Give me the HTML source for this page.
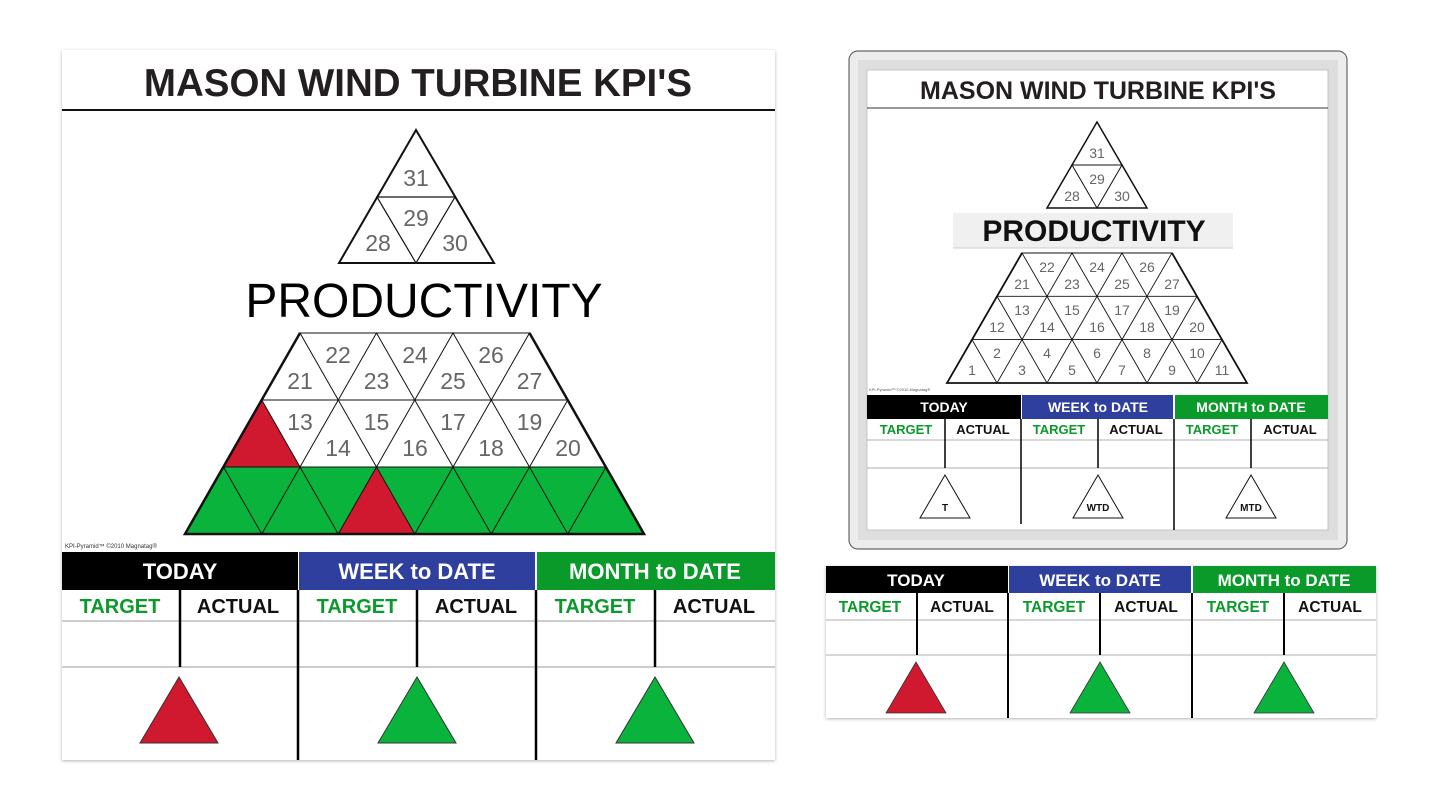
<!DOCTYPE html>
<html><head><meta charset="utf-8"><style>
html,body{margin:0;padding:0;background:#fff;width:1440px;height:810px;overflow:hidden}
svg{display:block;font-family:"Liberation Sans",sans-serif}
</style></head><body>
<svg width="1440" height="810" viewBox="0 0 1440 810" xmlns="http://www.w3.org/2000/svg">
<defs>
<filter id="sh" x="-5%" y="-5%" width="110%" height="110%"><feDropShadow dx="0" dy="1" stdDeviation="1.5" flood-color="#000" flood-opacity="0.3"/></filter>
</defs>
<!-- LEFT BOARD -->
<rect x="62" y="50" width="713" height="710" fill="#fff" filter="url(#sh)"/>
<text x="418" y="96" text-anchor="middle" font-size="38.5" font-weight="bold" fill="#231f20">MASON WIND TURBINE KPI'S</text>
<line x1="62" y1="110" x2="775" y2="110" stroke="#111" stroke-width="2"/>
<g fill="none" stroke="#111" stroke-width="1.2">
<polygon points="416,130 339,263 494,263" stroke-width="2"/>
<polygon points="377,197 455,197 416,263"/>
</g>
<g fill="#666" font-size="23" text-anchor="middle">
<text x="416" y="186">31</text><text x="416" y="226">29</text><text x="378" y="251">28</text><text x="455" y="251">30</text>
</g>
<text x="424" y="317" text-anchor="middle" font-size="48" fill="#000">PRODUCTIVITY</text>
<!-- big trapezoid: lattice w=76.5 h=67 -->
<polygon points="223.5,467 606.5,467 644,534 185,534" fill="#0ab43c"/>
<polygon points="262,400 223.5,467 300,467" fill="#d0182f"/>
<polygon points="376.5,467 338.5,534 415,534" fill="#d0182f"/>
<g fill="none" stroke="#111" stroke-width="1">
<polygon points="300,333 261.75,400 338.25,400"/><polygon points="376.5,333 338.25,400 414.75,400"/><polygon points="453,333 414.75,400 491.25,400"/><polygon points="529.5,333 491.25,400 567.75,400"/>
<polygon points="261.75,400 223.5,467 300,467"/><polygon points="338.25,400 300,467 376.5,467"/><polygon points="414.75,400 376.5,467 453,467"/><polygon points="491.25,400 453,467 529.5,467"/><polygon points="567.75,400 529.5,467 606,467"/>
<polygon points="223.5,467 185.25,534 261.75,534"/><polygon points="300,467 261.75,534 338.25,534"/><polygon points="376.5,467 338.25,534 414.75,534"/><polygon points="453,467 414.75,534 491.25,534"/><polygon points="529.5,467 491.25,534 567.75,534"/><polygon points="606,467 567.75,534 644.25,534"/>
<line x1="300" y1="333" x2="529.5" y2="333"/>
</g>
<polyline points="300,333 185,534 644,534 529.5,333" fill="none" stroke="#111" stroke-width="2.5"/>
<g fill="#666" font-size="23" text-anchor="middle">
<text x="300" y="389">21</text><text x="376.5" y="389">23</text><text x="453" y="389">25</text><text x="529.5" y="389">27</text>
<text x="338" y="363">22</text><text x="415" y="363">24</text><text x="491" y="363">26</text>
<text x="300" y="430">13</text><text x="376.5" y="430">15</text><text x="453" y="430">17</text><text x="529.5" y="430">19</text>
<text x="338" y="456">14</text><text x="415" y="456">16</text><text x="491" y="456">18</text><text x="568" y="456">20</text>
</g>
<text x="65" y="548" font-size="6" fill="#333">KPI-Pyramid™ ©2010 Magnatag®</text>
<rect x="62" y="552" width="236" height="38" fill="#000"/>
<rect x="299" y="552" width="236" height="38" fill="#2e3f9e"/>
<rect x="537" y="552" width="238" height="38" fill="#0a9a2a"/>
<g fill="#fff" font-size="22" font-weight="bold" text-anchor="middle">
<text x="180" y="579">TODAY</text><text x="417" y="579">WEEK to DATE</text><text x="655" y="579">MONTH to DATE</text>
</g>
<g font-size="20" font-weight="bold" text-anchor="middle">
<text x="120" y="613" fill="#0a9a2a">TARGET</text><text x="238" y="613" fill="#111">ACTUAL</text>
<text x="357" y="613" fill="#0a9a2a">TARGET</text><text x="476" y="613" fill="#111">ACTUAL</text>
<text x="595" y="613" fill="#0a9a2a">TARGET</text><text x="714" y="613" fill="#111">ACTUAL</text>
</g>
<g stroke="#999" stroke-width="1"><line x1="62" y1="621" x2="775" y2="621"/><line x1="62" y1="667" x2="775" y2="667"/></g>
<g stroke="#000" stroke-width="2.5">
<line x1="180" y1="590" x2="180" y2="667"/><line x1="417" y1="590" x2="417" y2="667"/><line x1="655" y1="590" x2="655" y2="667"/>
<line x1="298" y1="590" x2="298" y2="760"/><line x1="536" y1="590" x2="536" y2="760"/>
</g>
<polygon points="179,677 140,743 218,743" fill="#d0182f" stroke="#333" stroke-width="1"/>
<polygon points="417,677 378,743 456,743" fill="#0ab43c" stroke="#333" stroke-width="1"/>
<polygon points="655,677 616,743 694,743" fill="#0ab43c" stroke="#333" stroke-width="1"/>

<!-- RIGHT BOARD -->
<rect x="849" y="51" width="498" height="498" rx="9" fill="#ececec" stroke="#666" stroke-width="1.2"/>
<rect x="858" y="60" width="480" height="480" fill="#dedede"/>
<rect x="867" y="70" width="461" height="460" fill="#fff" stroke="#bbb" stroke-width="0.8"/>
<text x="1098" y="99" text-anchor="middle" font-size="25" font-weight="bold" fill="#231f20">MASON WIND TURBINE KPI'S</text>
<line x1="867" y1="108" x2="1328" y2="108" stroke="#333" stroke-width="1"/>
<g fill="none" stroke="#111" stroke-width="1">
<polygon points="1097,122 1047,208 1147,208" stroke-width="1.5"/>
<polygon points="1072,165 1122,165 1097,208"/>
</g>
<g fill="#666" font-size="14" text-anchor="middle">
<text x="1097" y="158">31</text><text x="1097" y="184">29</text><text x="1072" y="201">28</text><text x="1122" y="201">30</text>
</g>
<rect x="953" y="213" width="280" height="35" fill="#f0f0f0"/>
<line x1="953" y1="248" x2="1233" y2="248" stroke="#ccc"/>
<text x="1094" y="241" text-anchor="middle" font-size="30" font-weight="bold" fill="#111">PRODUCTIVITY</text>
<g fill="none" stroke="#111" stroke-width="0.9">
<polygon points="1022,253 997,296.3 1047,296.3"/><polygon points="1072,253 1047,296.3 1097,296.3"/><polygon points="1122,253 1097,296.3 1147,296.3"/><polygon points="1172,253 1147,296.3 1197,296.3"/>
<polygon points="997,296.3 972,339.6 1022,339.6"/><polygon points="1047,296.3 1022,339.6 1072,339.6"/><polygon points="1097,296.3 1072,339.6 1122,339.6"/><polygon points="1147,296.3 1122,339.6 1172,339.6"/><polygon points="1197,296.3 1172,339.6 1222,339.6"/>
<polygon points="972,339.6 947,383 997,383"/><polygon points="1022,339.6 997,383 1047,383"/><polygon points="1072,339.6 1047,383 1097,383"/><polygon points="1122,339.6 1097,383 1147,383"/><polygon points="1172,339.6 1147,383 1197,383"/><polygon points="1222,339.6 1197,383 1247,383"/>
<line x1="1022" y1="253" x2="1172" y2="253"/>
</g>
<polyline points="1022,253 947,383 1247,383 1172,253" fill="none" stroke="#111" stroke-width="1.8"/>
<g fill="#666" font-size="14" text-anchor="middle">
<text x="1047" y="272">22</text><text x="1097" y="272">24</text><text x="1147" y="272">26</text>
<text x="1022" y="289">21</text><text x="1072" y="289">23</text><text x="1122" y="289">25</text><text x="1172" y="289">27</text>
<text x="1022" y="315">13</text><text x="1072" y="315">15</text><text x="1122" y="315">17</text><text x="1172" y="315">19</text>
<text x="997" y="332">12</text><text x="1047" y="332">14</text><text x="1097" y="332">16</text><text x="1147" y="332">18</text><text x="1197" y="332">20</text>
<text x="997" y="358">2</text><text x="1047" y="358">4</text><text x="1097" y="358">6</text><text x="1147" y="358">8</text><text x="1197" y="358">10</text>
<text x="972" y="375">1</text><text x="1022" y="375">3</text><text x="1072" y="375">5</text><text x="1122" y="375">7</text><text x="1172" y="375">9</text><text x="1222" y="375">11</text>
</g>
<text x="869" y="391" font-size="4" fill="#555">KPI-Pyramid™ ©2010 Magnatag®</text>
<rect x="867" y="395" width="154" height="24" fill="#000"/>
<rect x="1022" y="395" width="151" height="24" fill="#2e3f9e"/>
<rect x="1175" y="395" width="153" height="24" fill="#0a9a2a"/>
<g fill="#fff" font-size="14" font-weight="bold" text-anchor="middle">
<text x="944" y="412">TODAY</text><text x="1098" y="412">WEEK to DATE</text><text x="1251" y="412">MONTH to DATE</text>
</g>
<g font-size="13" font-weight="bold" text-anchor="middle">
<text x="906" y="434" fill="#0a9a2a">TARGET</text><text x="983" y="434" fill="#111">ACTUAL</text>
<text x="1059" y="434" fill="#0a9a2a">TARGET</text><text x="1136" y="434" fill="#111">ACTUAL</text>
<text x="1212" y="434" fill="#0a9a2a">TARGET</text><text x="1290" y="434" fill="#111">ACTUAL</text>
</g>
<g stroke="#999" stroke-width="0.8"><line x1="867" y1="440" x2="1328" y2="440"/><line x1="867" y1="468" x2="1328" y2="468"/></g>
<g stroke="#000" stroke-width="1.5">
<line x1="945" y1="419" x2="945" y2="468"/><line x1="1098" y1="419" x2="1098" y2="468"/><line x1="1251" y1="419" x2="1251" y2="468"/>
<line x1="1021" y1="419" x2="1021" y2="524"/><line x1="1174" y1="419" x2="1174" y2="530"/>
</g>
<g fill="#fff" stroke="#111" stroke-width="1">
<polygon points="945,475 920,518 970,518"/><polygon points="1098,475 1073,518 1123,518"/><polygon points="1251,475 1226,518 1276,518"/>
</g>
<g font-size="10" font-weight="bold" text-anchor="middle" fill="#111">
<text x="945" y="511">T</text><text x="1098" y="511">WTD</text><text x="1251" y="511">MTD</text>
</g>

<!-- BOTTOM STRIP -->
<rect x="826" y="566" width="550" height="152" fill="#fff" filter="url(#sh)"/>
<rect x="826" y="566" width="182" height="27" fill="#000"/>
<rect x="1009" y="566" width="182" height="27" fill="#2e3f9e"/>
<rect x="1193" y="566" width="183" height="27" fill="#0a9a2a"/>
<g fill="#fff" font-size="17" font-weight="bold" text-anchor="middle">
<text x="916" y="586">TODAY</text><text x="1100" y="586">WEEK to DATE</text><text x="1284" y="586">MONTH to DATE</text>
</g>
<g font-size="15.5" font-weight="bold" text-anchor="middle">
<text x="870" y="612" fill="#0a9a2a">TARGET</text><text x="962" y="612" fill="#111">ACTUAL</text>
<text x="1054" y="612" fill="#0a9a2a">TARGET</text><text x="1146" y="612" fill="#111">ACTUAL</text>
<text x="1238" y="612" fill="#0a9a2a">TARGET</text><text x="1330" y="612" fill="#111">ACTUAL</text>
</g>
<g stroke="#999" stroke-width="0.8"><line x1="826" y1="620" x2="1376" y2="620"/><line x1="826" y1="655" x2="1376" y2="655"/></g>
<g stroke="#000" stroke-width="2">
<line x1="917" y1="593" x2="917" y2="655"/><line x1="1100" y1="593" x2="1100" y2="655"/><line x1="1284" y1="593" x2="1284" y2="655"/>
<line x1="1008" y1="593" x2="1008" y2="718"/><line x1="1192" y1="593" x2="1192" y2="718"/>
</g>
<polygon points="916,662 886,713 946,713" fill="#d0182f" stroke="#333" stroke-width="0.8"/>
<polygon points="1100,662 1070,713 1130,713" fill="#0ab43c" stroke="#333" stroke-width="0.8"/>
<polygon points="1284,662 1254,713 1314,713" fill="#0ab43c" stroke="#333" stroke-width="0.8"/>
</svg>
</body></html>
